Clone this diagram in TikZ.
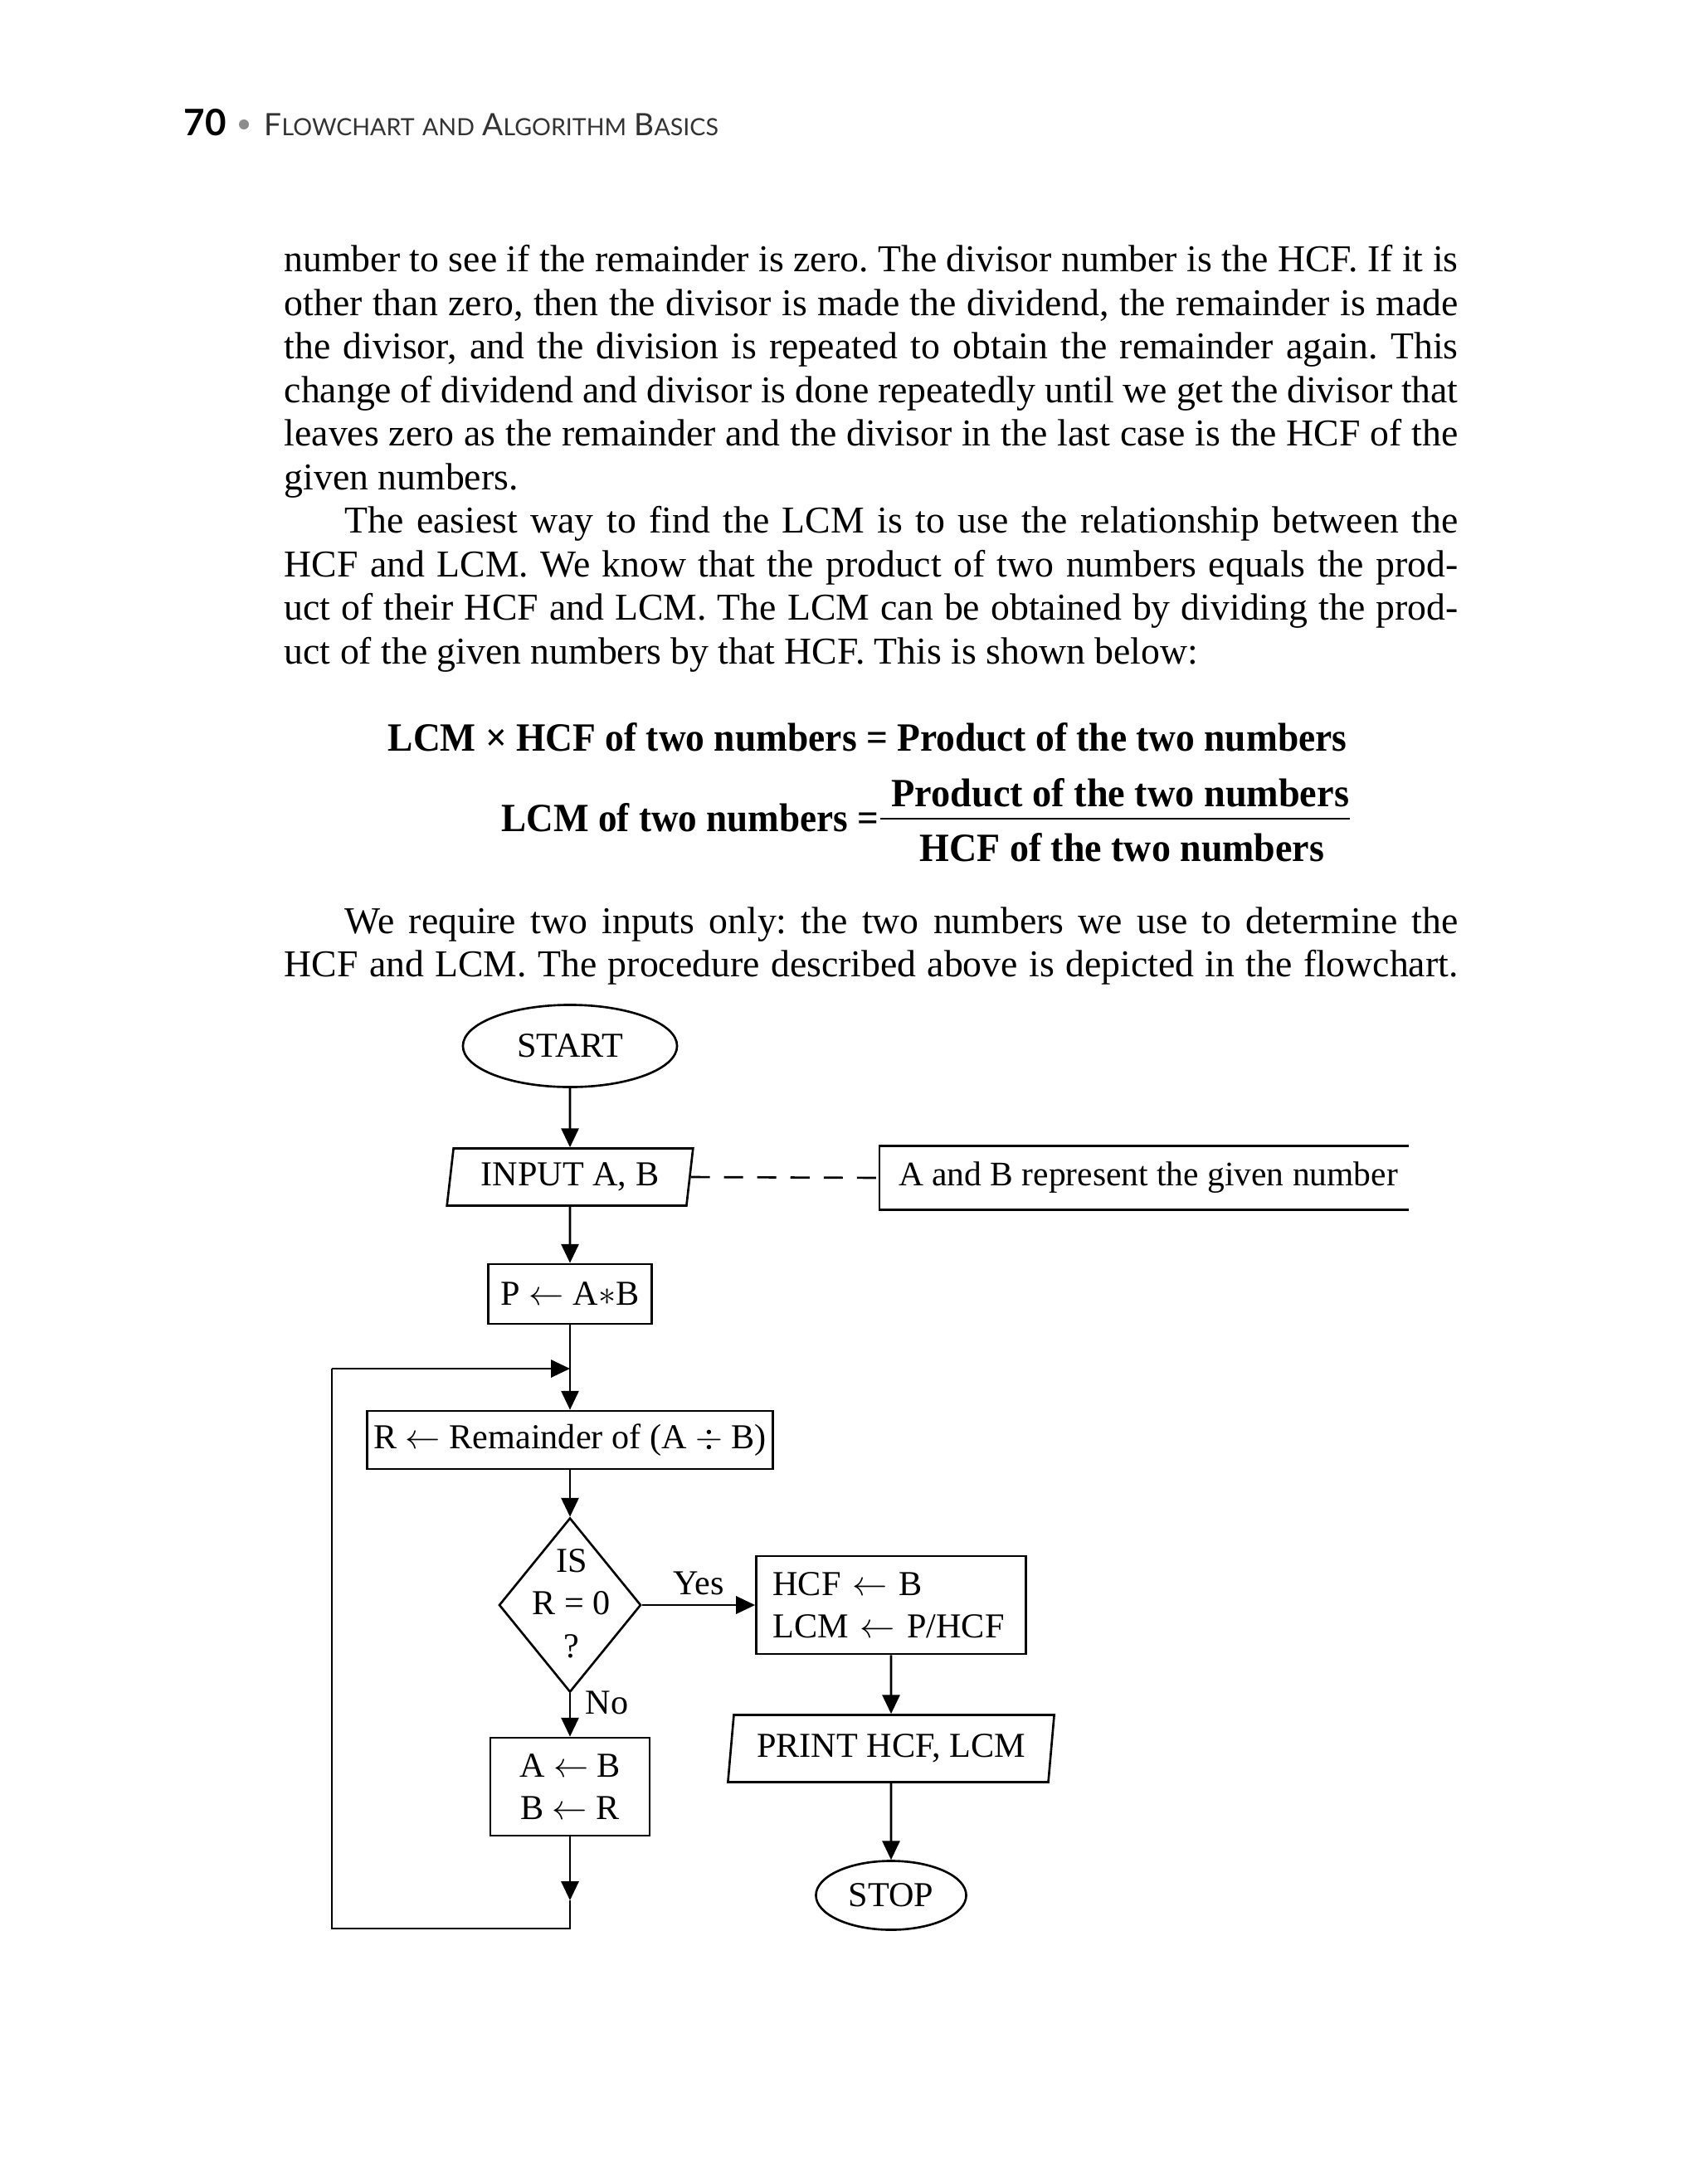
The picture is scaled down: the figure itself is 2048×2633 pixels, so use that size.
\documentclass[tikz,border=0pt]{standalone}
\usepackage{fontspec}
\setmainfont{Liberation Serif}
\newfontfamily\hfont{Lato}
\usetikzlibrary{shapes.geometric,arrows.meta}
\newcommand\smc[1]{{\fontsize{10}{10}\selectfont #1}}
\frenchspacing
\begin{document}
\begin{tikzpicture}[x=0.01cm,y=-0.01cm,
  bodytext/.style={anchor=base west,inner sep=0pt,font=\fontsize{13}{14.9}\selectfont},
  formula/.style={anchor=base west,inner sep=0pt},
  fc/.style={font=\fontsize{12}{14.6}\selectfont},
  proc/.style={fc,draw,line width=0.75pt,inner sep=0pt},
  term/.style={fc,ellipse,draw,line width=0.75pt,inner sep=0pt},
  io/.style={fc,trapezium,trapezium left angle=80,trapezium right angle=100,trapezium stretches=true,draw,line width=0.75pt,inner sep=0pt},
  arr/.style={line width=0.75pt,-{Triangle[length=6.5pt,width=6pt]}},
  plain/.style={line width=0.75pt},
  dashline/.style={line width=0.75pt,dash pattern=on 0.23cm off 0.17cm}
]
\useasboundingbox (0,0) rectangle (2048,2633);

% header
\node[anchor=base west,inner sep=0pt,font=\hfont\bfseries\fontsize{12.5}{12}\selectfont] (pg) at (221,163) {70};
\node[circle,fill=black!45,inner sep=0pt,minimum size=0.12cm] (dot) at (294,150) {};
\node[anchor=base west,inner sep=0pt,text=black!80] (hd) at (318,163)
  {\resizebox{5.47cm}{!}{\hfont\fontsize{13}{13}\selectfont F\smc{LOWCHART} \smc{AND} A\smc{LGORITHM} B\smc{ASICS}}};

% paragraph 1
\node[bodytext] (l1) at (342,327) {\makebox[14.14cm][s]{number to see if the remainder is zero. The divisor number is the HCF. If it is}};
\node[bodytext] (l2) at (342,380) {\makebox[14.14cm][s]{other than zero, then the divisor is made the dividend, the remainder is made}};
\node[bodytext] (l3) at (342,432) {\makebox[14.14cm][s]{the divisor, and the division is repeated to obtain the remainder again. This}};
\node[bodytext] (l4) at (342,485) {\makebox[14.14cm][s]{change of dividend and divisor is done repeatedly until we get the divisor that}};
\node[bodytext] (l5) at (342,537) {\makebox[14.14cm][s]{leaves zero as the remainder and the divisor in the last case is the HCF of the}};
\node[bodytext] (l6) at (342,590) {given numbers.};
% paragraph 2
\node[bodytext] (l7) at (415,642) {\makebox[13.41cm][s]{The easiest way to find the LCM is to use the relationship between the}};
\node[bodytext] (l8) at (342,695) {\makebox[14.14cm][s]{HCF and LCM. We know that the product of two numbers equals the prod-}};
\node[bodytext] (l9) at (342,747) {\makebox[14.14cm][s]{uct of their HCF and LCM. The LCM can be obtained by dividing the prod-}};
\node[bodytext] (l10) at (342,800) {uct of the given numbers by that HCF. This is shown below:};

% formulas
\node[formula] (f1) at (467,905) {\resizebox{11.55cm}{0.34cm}{\bfseries LCM × HCF of two numbers = Product of the two numbers}};
\node[formula] (f2) at (604,1002) {\resizebox{4.54cm}{0.34cm}{\bfseries LCM of two numbers =}};
\node[formula] (f2n) at (1074,972) {\resizebox{5.51cm}{0.34cm}{\bfseries Product of the two numbers}};
\node[formula] (f2d) at (1108,1038) {\resizebox{4.87cm}{0.34cm}{\bfseries HCF of the two numbers}};
\draw[line width=0.8pt] (1061,987) -- (1627,987);

% paragraph 3
\node[bodytext] (l11) at (415,1125) {\makebox[13.41cm][s]{We require two inputs only: the two numbers we use to determine the}};
\node[bodytext] (l12) at (342,1177) {\makebox[14.14cm][s]{HCF and LCM. The procedure described above is depicted in the flowchart.}};

% flowchart
\node[term,minimum width=2.58cm,minimum height=0.99cm] (start) at (687,1261) {START};
\node[io,minimum width=2.97cm,minimum height=0.69cm] (input) at (687,1419) {INPUT A, B};
\node[minimum width=6.36cm,minimum height=0.75cm,inner sep=0pt,font=\fontsize{11.8}{14}\selectfont] (ann) at (1379,1420) {\hspace{0.1cm}A and B represent the given number};
\draw[plain] (ann.north east) -- (ann.north west) -- (ann.south west) -- (ann.south east);
\node[proc,minimum width=1.97cm,minimum height=0.72cm] (p) at (687,1560) {P $\leftarrow$ A$*$B};
\node[proc,minimum width=4.89cm,minimum height=0.70cm] (r) at (687,1736) {R $\leftarrow$ Remainder of (A $\div$ B)};
\node[diamond,draw,line width=0.75pt,inner sep=0pt,minimum width=1.71cm,minimum height=2.10cm] (dec) at (687,1935) {};
\node[fc,align=center,inner sep=0pt] (dect) at (689,1933) {IS\\R = 0\\?};
\node[proc,minimum width=3.25cm,minimum height=1.18cm,inner xsep=0.2cm,text width=2.85cm,align=left] (hcf) at (1074,1935) {HCF $\leftarrow$ B\\LCM $\leftarrow$ P/HCF};
\node[io,minimum width=3.96cm,minimum height=0.81cm] (print) at (1074,2108) {PRINT HCF, LCM};
\node[term,minimum width=1.81cm,minimum height=0.83cm] (stop) at (1074,2285) {STOP};
\node[proc,minimum width=1.92cm,minimum height=1.18cm,align=center] (ab) at (687,2154) {A $\leftarrow$ B\\B $\leftarrow$ R};

\coordinate (merge) at (687,1650);
\coordinate (abtip) at (687,2291);
\coordinate (lbr) at (687,2325);
\coordinate (lbl) at (400,2325);
\coordinate (ltl) at (400,1650);

\draw[arr] (start.south) -- (input.north);
\draw[arr] (input.south) -- (p.north);
\draw[dashline] (input.east) -- (ann.west);
\draw[arr] (p.south) -- (r.north);
\draw[arr] (r.south) -- (dec.north);
\draw[arr] (dec.east) -- node[fc,above,inner sep=3pt] (yes) {Yes} (hcf.west);
\draw[arr] (dec.south) -- node[fc,pos=0.22,right,inner sep=5pt] (no) {No} (ab.north);
\draw[arr] (hcf.south) -- (print.north);
\draw[arr] (print.south) -- (stop.north);
\draw[arr] (ab.south) -- (abtip);
\draw[plain] (abtip) -- (lbr) -- (lbl) -- (ltl);
\draw[arr] (ltl) -- (merge);
\end{tikzpicture}
\end{document}
